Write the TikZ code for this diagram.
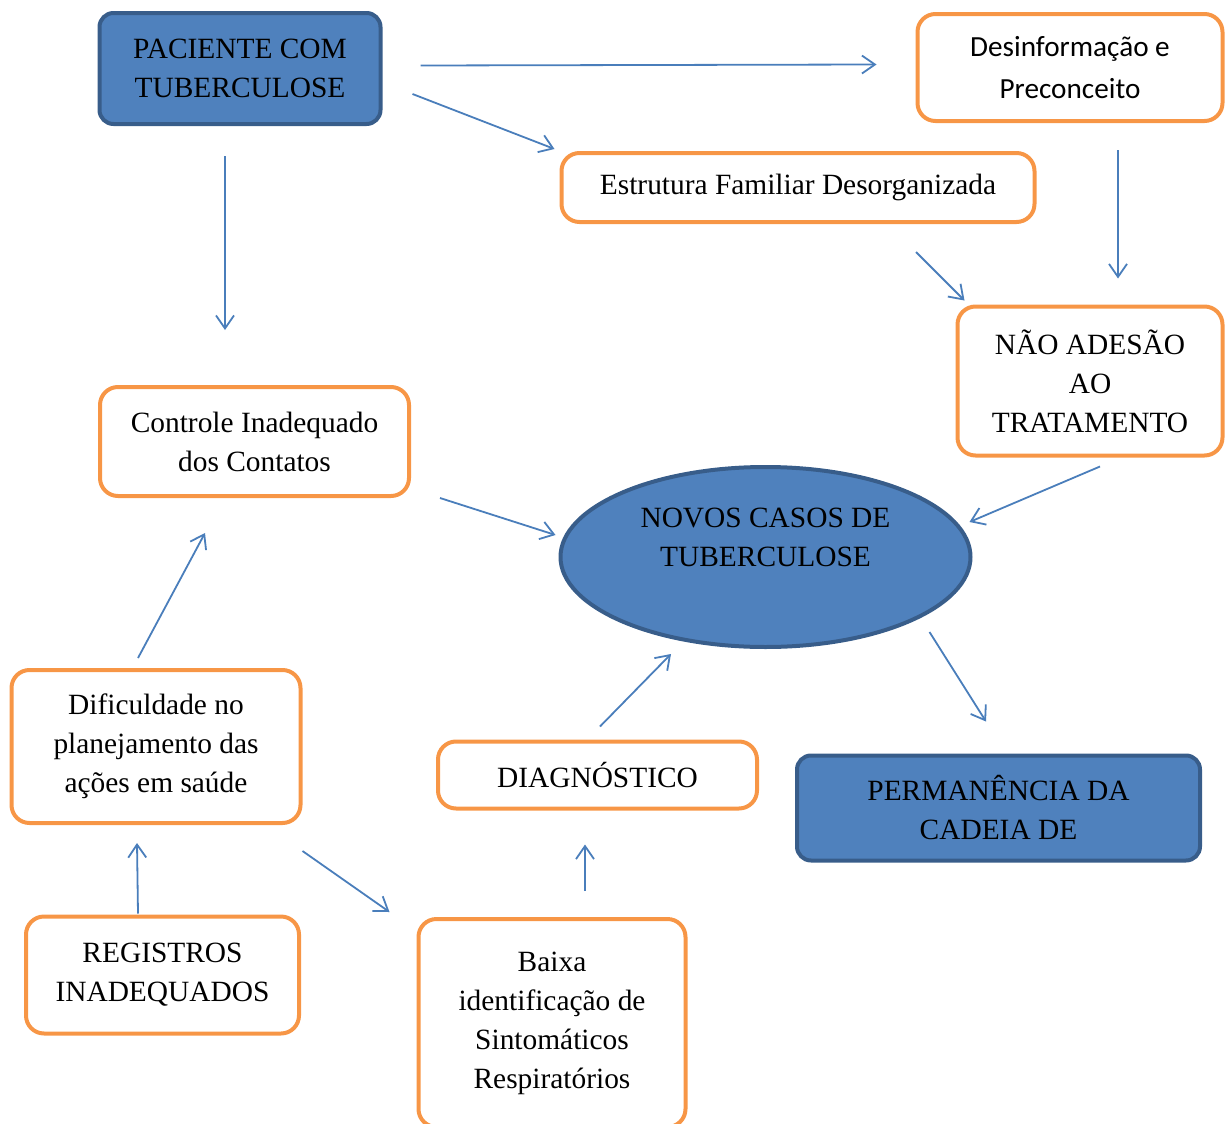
\documentclass[tikz,border=0pt]{standalone}
\usepackage{fontspec}
\setmainfont{Liberation Serif}
\newfontfamily\calibrifont{Carlito}
\usepackage{tikz}
\usetikzlibrary{calc}
\usetikzlibrary{arrows.meta}
\usetikzlibrary{shapes.geometric}
\definecolor{bluefill}{HTML}{4F81BD}
\definecolor{blueline}{HTML}{385D8A}
\definecolor{orangeline}{HTML}{F79646}
\definecolor{arrowblue}{HTML}{4A7EBB}

\begin{document}
\begin{tikzpicture}[x=0.5pt,y=-0.5pt,
		every node/.style={align=center,font=\fontsize{14.7}{19.5}\selectfont,inner sep=0pt},
		bluebox/.style={draw=blueline,fill=bluefill,line width=2pt,rounded corners=7pt},
		orangebox/.style={draw=orangeline,line width=2pt,rounded corners=9pt},
		arr/.style={draw=arrowblue,line width=0.9pt,-{Straight Barb[length=6.5pt,width=9pt]}}]
			\clip (0,0) rectangle (1227,1124);
			\node[bluebox,minimum width=140.5pt,minimum height=55.5pt] (pac) at (240,68.5) {PACIENTE COM\\TUBERCULOSE};
			\node[orangebox,minimum width=152.5pt,minimum height=53.5pt,font=\calibrifont\fontsize{14.6}{21}\selectfont] (desinf) at (1070,67.5) {Desinformação e\\Preconceito};
			\node[orangebox,minimum width=236.5pt,minimum height=34.5pt] (estrut) at (798,187.5) {Estrutura Familiar Desorganizada};
			\node[orangebox,minimum width=132.5pt,minimum height=74.5pt] (naoades) at (1090,381) {NÃO ADESÃO\\AO\\TRATAMENTO};
			\node[orangebox,minimum width=154.5pt,minimum height=54.5pt] (controle) at (254.5,441.5) {Controle Inadequado\\dos Contatos};
			\node[ellipse,draw=blueline,fill=bluefill,line width=2pt,minimum width=205pt,minimum height=90pt] (novos) at (765.5,557) {NOVOS CASOS DE\\TUBERCULOSE\\\mbox{}};
			\node[orangebox,minimum width=144.5pt,minimum height=76.5pt] (dific) at (156,746.5) {Dificuldade no\\planejamento das\\ações em saúde};
			\node[orangebox,minimum width=159.5pt,minimum height=33.5pt] (diagn) at (597.5,775) {DIAGNÓSTICO};
			\node[bluebox,minimum width=201.5pt,minimum height=52.5pt] (perman) at (998.5,808) {PERMANÊNCIA DA\\CADEIA DE};
			\node[orangebox,minimum width=136.5pt,minimum height=58.5pt] (registros) at (162.5,975) {REGISTROS\\INADEQUADOS};
			\node[orangebox,minimum width=133.5pt,minimum height=104pt] (baixa) at (552,1023) {Baixa\\identificação de\\Sintomáticos\\Respiratórios};

			% setas
			\draw[arr] ($(pac.east)+(38,-3)$) -- ($(desinf.west)+(-39,-3)$);
			\draw[arr] ($(pac.east)+(30,25.5)$) -- ($(estrut.north west)+(-5,-2)$);
			\draw[arr] ($(pac.south)+(-15,30)$) -- ($(controle.north)+(-29.5,-55)$);
			\draw[arr] ($(desinf.south)+(48,27)$) -- ($(naoades.north)+(28,-26)$);
			\draw[arr] ($(estrut.south)+(118,28)$) -- ($(naoades.north west)+(9,-4)$);
			\draw[arr] ($(naoades.south)+(10,9)$) -- ($(novos.east)+(-3,-35)$);
			\draw[arr] ($(controle.south east)+(29,0)$) -- ($(novos.west)+(-3,-22)$);
			\draw[arr] ($(novos.east)+(-43,75)$) -- ($(perman.north)+(-12.5,-32)$);
			\draw[arr] ($(diagn.north)+(2.5,-13)$) -- ($(novos.south)+(-94.5,5)$);
			\draw[arr] ($(dific.north)+(-18,-10)$) -- ($(controle.south)+(-49.5,35)$);
			\draw[arr] ($(registros.north)+(-24.5,-1)$) -- ($(dific.south)+(-19,18)$);
			\draw[arr] ($(dific.south east)+(0,26)$) -- ($(baixa.north west)+(-27,-5)$);
			\draw[arr] ($(baixa.north)+(33,-26)$) -- ($(diagn.south)+(-12.5,34)$);
		\end{tikzpicture}
\end{document}
